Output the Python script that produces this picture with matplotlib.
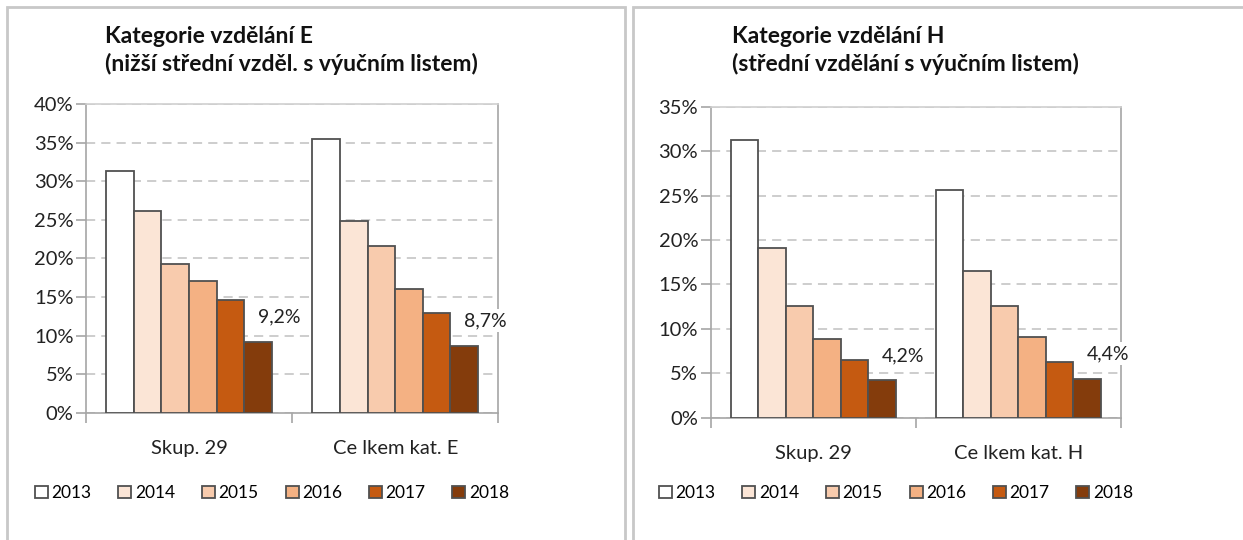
import matplotlib
matplotlib.use('Agg')
import matplotlib.pyplot as plt
import numpy as np
from matplotlib.patches import Rectangle
from matplotlib.ticker import FuncFormatter

plt.rcParams['font.family'] = ['Lato', 'DejaVu Sans']

# Data
years = ['2013', '2014', '2015', '2016', '2017', '2018']
colors = ['#FFFFFF', '#FBE5D6', '#F8CBAD', '#F4B183', '#C55A11', '#843C0C']

cats_e = ['Skup. 29', 'Ce lkem kat. E']
vals_e_skup = [31.4, 26.2, 19.3, 17.1, 14.6, 9.2]
vals_e_celkem = [35.5, 24.9, 21.6, 16.1, 12.9, 8.7]
labels_e = ['9,2%', '8,7%']
title_e = 'Kategorie vzdělání E\n(nižší střední vzděl. s výučním listem)'

cats_h = ['Skup. 29', 'Ce lkem kat. H']
vals_h_skup = [31.3, 19.1, 12.6, 8.9, 6.5, 4.2]
vals_h_celkem = [25.6, 16.5, 12.6, 9.1, 6.3, 4.4]
labels_h = ['4,2%', '4,4%']
title_h = 'Kategorie vzdělání H\n(střední vzdělání s výučním listem)'

W, H = 1243, 540
fig = plt.figure(figsize=(W / 100, H / 100), dpi=100)

# panel frames
for x0, x1 in [(7, 625), (633, 1260)]:
    fig.patches.append(Rectangle((x0 / W, -0.1), (x1 - x0) / W, 1.1 - 7 / H,
                                 transform=fig.transFigure, fill=False,
                                 edgecolor='#c8c8c8', linewidth=2))


def draw(ax, cats, v1, v2, ymax, labels, leg_x):
    bw = 0.134
    centers = [0.5, 1.5]
    groups = [v1, v2]
    for i in range(len(years)):
        xs = [c + (i - 2.5) * bw for c in centers]
        hs = [g[i] / 100 for g in groups]
        ax.bar(xs, hs, width=bw, color=colors[i], edgecolor='#505050',
               linewidth=1.3, label=years[i], zorder=3)
    for c, g, lab in zip(centers, groups, labels):
        ax.annotate(lab, (c + 2.5 * bw, g[-1] / 100), xytext=(21, 25),
                    textcoords='offset pixels', ha='center', va='center',
                    fontsize=14, color='#222222', zorder=5,
                    bbox=dict(boxstyle='square,pad=0.15', fc='white', ec='none'),
                    annotation_clip=False)
    ax.set_xlim(0, 2)
    ax.set_ylim(0, ymax / 100)
    ax.set_yticks(np.arange(0, ymax + 1, 5) / 100)
    ax.yaxis.set_major_formatter(FuncFormatter(lambda v, p: f'{round(v * 100)}%'))
    ax.set_xticks([0, 1, 2])
    ax.set_xticklabels([])
    ax.set_xticks(centers, minor=True)
    ax.set_xticklabels(cats, minor=True)
    ax.tick_params(axis='x', which='minor', length=0, pad=20, labelsize=14.5,
                   labelcolor='#222222')
    ax.tick_params(axis='x', which='major', length=7, width=1.2, color='#a6a6a6')
    ax.tick_params(axis='y', length=7, width=1.2, color='#a6a6a6', labelsize=14.5,
                   labelcolor='#222222', pad=2)
    ax.yaxis.grid(True, color='#c0c0c0', linestyle=(0, (6, 4)), linewidth=1.1)
    ax.set_axisbelow(True)
    for s in ax.spines.values():
        s.set_color('#a6a6a6')
        s.set_linewidth(1.2)
    ax.spines['top'].set_color('#d0d0d0')
    ax.legend(loc='center', bbox_to_anchor=(leg_x, 1 - 493 / H),
              bbox_transform=fig.transFigure, ncol=6, frameon=False,
              fontsize=12.5, handlelength=0.75, handleheight=0.75, handletextpad=0.2,
              columnspacing=1.55, borderaxespad=0)


ax1 = fig.add_axes([86 / W, 1 - 412.7 / H, 412.3 / W, 308.4 / H])
draw(ax1, cats_e, vals_e_skup, vals_e_celkem, 40, labels_e, 272 / W)
fig.text(105 / W, 1 - 26 / H, title_e, fontsize=16.5, fontweight='bold',
         va='top', ha='left', linespacing=1.35, color='#111111')

ax2 = fig.add_axes([710.7 / W, 1 - 417.7 / H, 410 / W, 311 / H])
draw(ax2, cats_h, vals_h_skup, vals_h_celkem, 35, labels_h, 896 / W)
fig.text(732 / W, 1 - 26 / H, title_h, fontsize=16.5, fontweight='bold',
         va='top', ha='left', linespacing=1.35, color='#111111')

fig.savefig('out.png', dpi=100)
